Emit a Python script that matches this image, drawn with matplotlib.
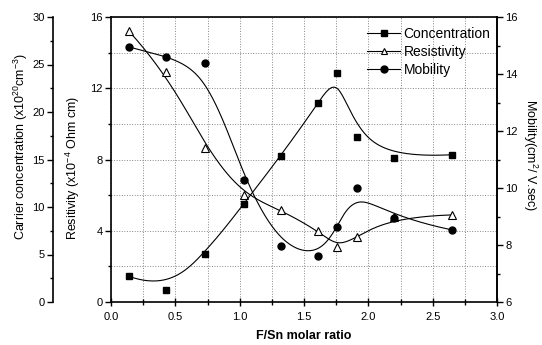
import numpy as np
import matplotlib
matplotlib.use("Agg")
import matplotlib.pyplot as plt
from matplotlib.lines import Line2D
from matplotlib.ticker import MultipleLocator, FormatStrFormatter

plt.rcParams["font.family"] = ["Liberation Sans", "DejaVu Sans"]
plt.rcParams["mathtext.default"] = "regular"

# 数据
fsn_ratio = [0.14, 0.43, 0.73, 1.03, 1.32, 1.61, 1.76, 1.91, 2.20, 2.65]
concentration = [2.7, 1.3, 5.05, 10.3, 15.4, 20.9, 24.1, 17.4, 15.2, 15.5]   # x10^20 cm^-3
resistivity = [15.2, 12.9, 8.65, 6.0, 5.17, 3.99, 3.09, 3.65, 4.78, 4.89]    # x10^-4 Ohm cm
mobility = [14.95, 14.6, 14.4, 10.28, 7.96, 7.61, 8.63, 10.0, 8.95, 8.53]     # cm^2/V.sec


def bspline(xs, ys, num=300, k=3):
    # Origin 风格的 B-spline 连线：数据点作为控制点（首尾夹紧）
    xs, ys = np.asarray(xs, float), np.asarray(ys, float)
    n = len(xs)
    kv = np.r_[np.zeros(k), np.arange(n - k + 1), np.full(k, n - k)].astype(float)
    t = np.linspace(0, n - k, num)
    t[-1] -= 1e-9
    N = np.array([(kv[i] <= t) & (t < kv[i + 1]) for i in range(len(kv) - 1)], float)
    for p in range(1, k + 1):
        Nn = np.zeros((len(kv) - 1 - p, num))
        for i in range(len(kv) - 1 - p):
            d1 = kv[i + p] - kv[i]
            d2 = kv[i + p + 1] - kv[i + 1]
            a = (t - kv[i]) / d1 * N[i] if d1 > 0 else 0
            b = (kv[i + p + 1] - t) / d2 * N[i + 1] if d2 > 0 else 0
            Nn[i] = a + b
        N = Nn
    return N.T @ xs, N.T @ ys


fig = plt.figure(figsize=(5.42, 3.45), dpi=100)
ax = fig.add_axes([111 / 542, 1 - 302 / 345, 386 / 542, 285 / 345])
ax_c = ax.twinx()
ax_m = ax.twinx()

lw = 0.8
tick_fs = 8

# 主轴：电阻率
ax.set_xlim(0, 3.0)
ax.set_ylim(0, 16)
ax.xaxis.set_major_locator(MultipleLocator(0.5))
ax.xaxis.set_minor_locator(MultipleLocator(0.25))
ax.xaxis.set_major_formatter(FormatStrFormatter("%.1f"))
ax.yaxis.set_major_locator(MultipleLocator(4))
ax.yaxis.set_minor_locator(MultipleLocator(2))
ax.grid(True, which="both", color="#888888", linestyle=":", linewidth=0.7)
ax.tick_params(axis="x", which="major", direction="inout", length=6, width=1, labelsize=tick_fs, pad=4)
ax.tick_params(axis="x", which="minor", direction="inout", length=4, width=1)
ax.tick_params(axis="y", which="major", direction="out", length=4, width=1, labelsize=tick_fs, pad=2)
ax.tick_params(axis="y", which="minor", direction="out", length=2, width=1)
for s in ax.spines.values():
    s.set_linewidth(1.2)

rx, ry = bspline(fsn_ratio, resistivity)
ax.plot(rx, ry, color="k", lw=lw)
ax.plot(fsn_ratio, resistivity, linestyle="none", marker="^", ms=6,
        markerfacecolor="white", markeredgecolor="k", markeredgewidth=0.8)
ax.set_ylabel("Resitivity (x10$^{-4}$ Ohm cm)", fontsize=9, va="bottom")
ax.yaxis.set_label_coords(-0.075, 0.47)
ax.set_xlabel("F/Sn molar ratio", fontsize=9, fontweight="bold", labelpad=6)

# 外侧左轴：载流子浓度
ax_c.set_ylim(0, 30)
ax_c.spines["left"].set_position(("axes", -0.150))
ax_c.spines["left"].set_visible(True)
ax_c.spines["left"].set_linewidth(1.2)
for side in ["right", "top", "bottom"]:
    ax_c.spines[side].set_visible(False)
ax_c.yaxis.set_ticks_position("left")
ax_c.yaxis.set_label_position("left")
ax_c.yaxis.set_major_locator(MultipleLocator(5))
ax_c.yaxis.set_minor_locator(MultipleLocator(2.5))
ax_c.tick_params(axis="y", which="major", direction="out", length=4, width=1, labelsize=tick_fs, pad=2)
ax_c.tick_params(axis="y", which="minor", direction="out", length=2, width=1)
cx, cy = bspline(fsn_ratio, concentration)
ax_c.plot(cx, cy, color="k", lw=lw)
ax_c.plot(fsn_ratio, concentration, linestyle="none", marker="s", ms=5, color="k")
ax_c.set_ylabel("Carrier concentration (x10$^{20}$cm$^{-3}$)", fontsize=9, va="bottom")
ax_c.yaxis.set_label_coords(-0.21, 0.547)

# 右轴：迁移率
ax_m.set_ylim(6, 16)
for side in ["left", "top", "bottom"]:
    ax_m.spines[side].set_visible(False)
ax_m.spines["right"].set_linewidth(1.2)
ax_m.yaxis.set_major_locator(MultipleLocator(2))
ax_m.yaxis.set_minor_locator(MultipleLocator(1))
ax_m.tick_params(axis="y", which="major", direction="out", length=4, width=1, labelsize=tick_fs, pad=2)
ax_m.tick_params(axis="y", which="minor", direction="out", length=2, width=1)
mx, my = bspline(fsn_ratio, mobility)
ax_m.plot(mx, my, color="k", lw=lw)
ax_m.plot(fsn_ratio, mobility, linestyle="none", marker="o", ms=5, color="k")
ax_m.set_ylabel("Mobility(cm$^{2}$/ V.sec)", fontsize=9, rotation=270, va="bottom")
ax_m.yaxis.set_label_coords(1.062, 0.516)

# 图例
handles = [
    Line2D([], [], color="k", lw=lw, marker="s", ms=5),
    Line2D([], [], color="k", lw=lw, marker="^", ms=5, markerfacecolor="white", markeredgewidth=0.8),
    Line2D([], [], color="k", lw=lw, marker="o", ms=5),
]
ax_m.legend(handles, ["Concentration", "Resistivity", "Mobility"],
            loc="upper left", bbox_to_anchor=(360 / 542, 1 - 20 / 345),
            bbox_transform=fig.transFigure, frameon=False, fontsize=10,
            handlelength=2.4, handletextpad=0.25, labelspacing=0.3, borderpad=0)

fig.savefig("out.png", dpi=100)
